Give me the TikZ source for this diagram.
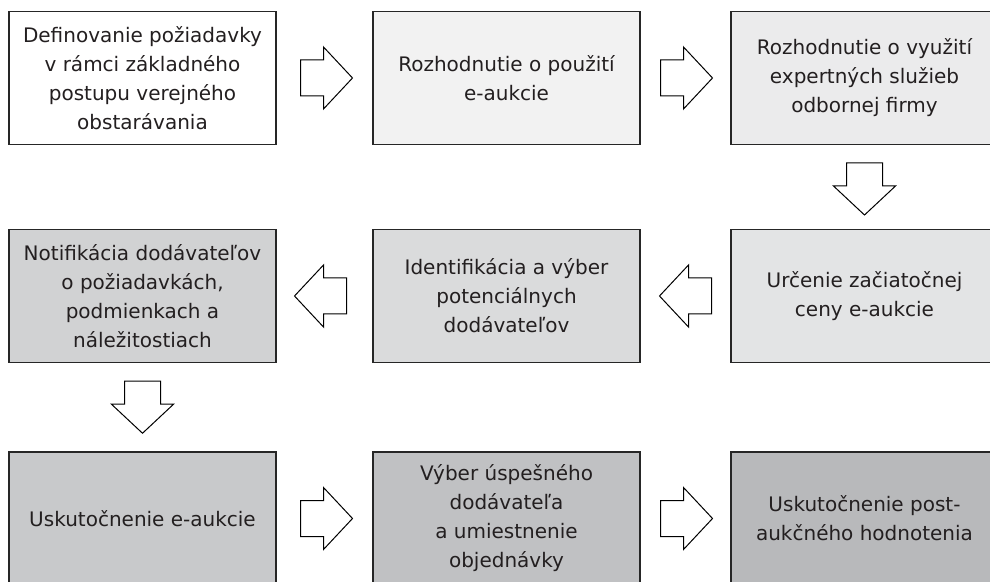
\documentclass[tikz,border=0pt]{standalone}
\usepackage{fontspec}
\setmainfont{DejaVu Sans}
\usetikzlibrary{calc}

\definecolor{txtgray}{HTML}{231F20}
\definecolor{fillA}{HTML}{FFFFFF}
\definecolor{fillB}{HTML}{F2F2F2}
\definecolor{fillC}{HTML}{EBEBEC}
\definecolor{fillD}{HTML}{E3E4E5}
\definecolor{fillE}{HTML}{DADBDC}
\definecolor{fillF}{HTML}{D1D2D3}
\definecolor{fillG}{HTML}{C8C9CB}
\definecolor{fillH}{HTML}{C0C1C3}
\definecolor{fillI}{HTML}{B8B9BB}

\tikzset{
  stagebox/.style={draw=black!85, line width=0.8pt, minimum width=133.5pt, minimum height=66.5pt,
    inner sep=0pt, align=center, text=txtgray, font=\fontsize{10}{14.5}\selectfont},
  pics/blockarrow/.style={code={
    \draw[fill=white, line width=0.5pt, line join=miter]
      (-26,-18) -- (-3,-18) -- (-3,-31) -- (26,0) -- (-3,31) -- (-3,18) -- (-26,18) -- cycle;
  }}
}

\begin{document}
\begin{tikzpicture}[x=0.5pt,y=-0.5pt]
      \clip (0,0) rectangle (990,582);
      \node[stagebox,fill=fillA] (def) at (142.5,78) {Definovanie požiadavky\\v rámci základného\\postupu verejného\\obstarávania};
      \node[stagebox,fill=fillB] (rozh) at (506.5,78) {Rozhodnutie o použití\\e-aukcie};
      \node[stagebox,fill=fillC] (expert) at (864.5,78) {Rozhodnutie o využití\\expertných služieb\\odbornej firmy};
      \node[stagebox,fill=fillD] (cena) at (864.5,296) {Určenie začiatočnej\\ceny e-aukcie};
      \node[stagebox,fill=fillE] (ident) at (506.5,296) {Identifikácia a výber\\potenciálnych\\dodávateľov};
      \node[stagebox,fill=fillF] (notif) at (142.5,296) {Notifikácia dodávateľov\\o požiadavkách,\\podmienkach a\\náležitostiach};
      \node[stagebox,fill=fillG] (aukcia) at (142.5,518.5) {Uskutočnenie e-aukcie};
      \node[stagebox,fill=fillH] (vyber) at (506.5,518.5) {Výber úspešného\\dodávateľa\\a umiestnenie\\objednávky};
      \node[stagebox,fill=fillI] (post) at (864.5,518.5) {Uskutočnenie post-\\aukčného hodnotenia};
      % block arrows between the stages
      \pic at ($(def.east)!0.5!(rozh.west)+(2,0)$) {blockarrow};
      \pic at ($(rozh.east)!0.5!(expert.west)+(1,0)$) {blockarrow};
      \pic[rotate=-90] at ($(expert.south)!0.5!(cena.north)+(0,2)$) {blockarrow};
      \pic[rotate=180] at ($(cena.west)!0.5!(ident.east)$) {blockarrow};
      \pic[rotate=180] at ($(ident.west)!0.5!(notif.east)-(4,0)$) {blockarrow};
      \pic[rotate=-90] at ($(notif.south)!0.5!(aukcia.north)$) {blockarrow};
      \pic at ($(aukcia.east)!0.5!(vyber.west)+(2,0)$) {blockarrow};
      \pic at ($(vyber.east)!0.5!(post.west)+(1,0)$) {blockarrow};
\end{tikzpicture}
\end{document}
